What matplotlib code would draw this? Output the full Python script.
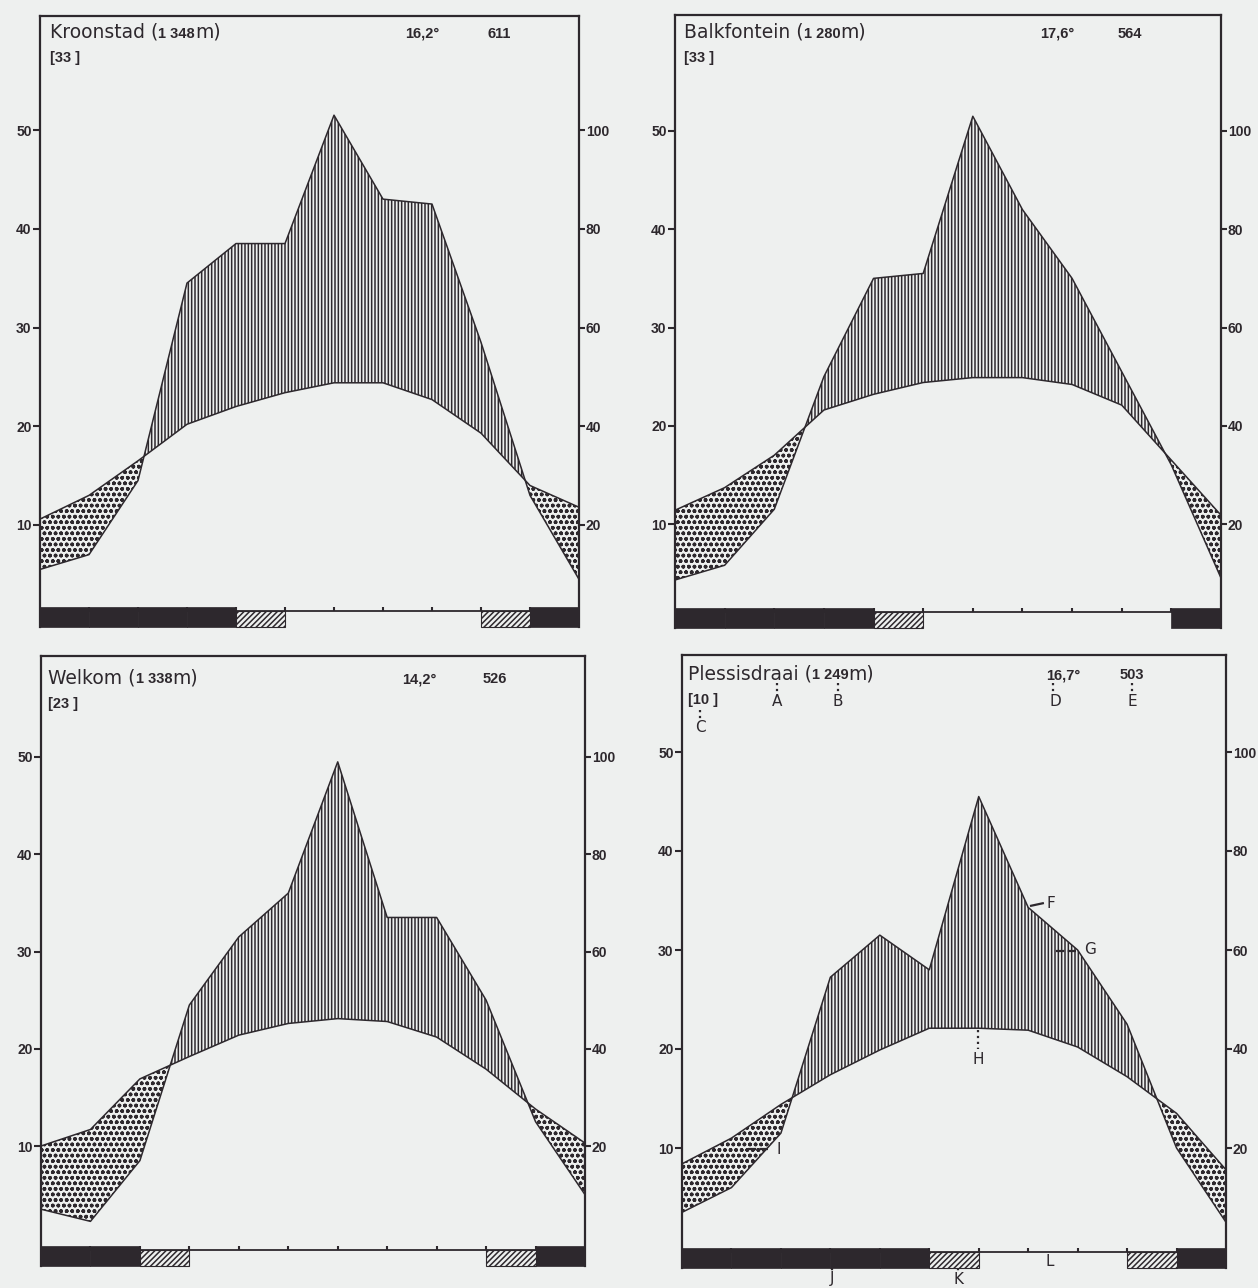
import matplotlib
matplotlib.use("Agg")
import matplotlib.pyplot as plt
from matplotlib.patches import Rectangle
from matplotlib.lines import Line2D
import numpy as np

W, H = 1258, 1288
INK = "#2d282d"
BG = "#eef0ef"

plt.rcParams["hatch.linewidth"] = 1.1
plt.rcParams["hatch.color"] = INK

NUM_FONT = "Liberation Sans"
NAME_FONT = "DejaVu Sans"

# months Jul .. Jun (southern hemisphere year)
months = np.arange(12)

# Kroonstad
kroonstad_temp = [10.6, 13.0, 16.5, 20.2, 22.0, 23.4, 24.4, 24.4, 22.7, 19.3, 14.0, 11.8]
kroonstad_prec = [11, 14, 29, 69, 77, 77, 103, 86, 85, 57, 26, 9]
kroonstad_frost = [0, 1, 2, 3, 10]
kroonstad_abs_frost = [4, 9]

# Balkfontein
balk_temp = [11.4, 13.7, 17.0, 21.6, 23.2, 24.4, 24.9, 24.9, 24.2, 22.1, 16.5, 10.9]
balk_prec = [8.6, 11.6, 23, 50, 70, 71, 103, 84, 70, 51, 32, 9]
balk_frost = [0, 1, 2, 3, 10]
balk_abs_frost = [4]

# Welkom
welkom_temp = [10.0, 11.7, 16.9, 19.2, 21.4, 22.6, 23.1, 22.8, 21.2, 17.9, 13.8, 10.3]
welkom_prec = [7, 4.5, 17, 49, 63, 72, 99, 67, 67, 50, 25, 10]
welkom_frost = [0, 1, 10]
welkom_abs_frost = [2, 9]

# Plessisdraai
pless_temp = [8.4, 11.0, 14.4, 17.4, 19.9, 22.1, 22.1, 21.9, 20.2, 17.2, 13.5, 7.8]
pless_prec = [7, 12, 23, 54.5, 63, 56, 91, 68.6, 60, 45, 20, 5]
pless_frost = [0, 1, 2, 3, 4, 10]
pless_abs_frost = [5, 9]

stations = [
    dict(name="Kroonstad", alt="1 348", mean_t="16,2", total_p="611", years="33",
         temp=kroonstad_temp, prec=kroonstad_prec,
         frost=kroonstad_frost, abs_frost=kroonstad_abs_frost,
         geom=dict(left=40, right=579, top=16, y10=525, y50=130, base=1.3,
                   head=(50, 38), stat_t=405, stat_p=488, years_y=62)),
    dict(name="Balkfontein", alt="1 280", mean_t="17,6", total_p="564", years="33",
         temp=balk_temp, prec=balk_prec,
         frost=balk_frost, abs_frost=balk_abs_frost,
         geom=dict(left=675, right=1221, top=15, y10=524, y50=131, base=1.0,
                   head=(684, 38), stat_t=1040, stat_p=1118, years_y=62)),
    dict(name="Welkom", alt="1 338", mean_t="14,2", total_p="526", years="23",
         temp=welkom_temp, prec=welkom_prec,
         frost=welkom_frost, abs_frost=welkom_abs_frost,
         geom=dict(left=41, right=585, top=656, y10=1146, y50=757, base=-0.7,
                   head=(48, 683), stat_t=402, stat_p=483, years_y=708)),
    dict(name="Plessisdraai", alt="1 249", mean_t="16,7", total_p="503", years="10",
         temp=pless_temp, prec=pless_prec,
         frost=pless_frost, abs_frost=pless_abs_frost,
         geom=dict(left=682, right=1226, top=655, y10=1148, y50=752, base=-0.5,
                   head=(688, 679), stat_t=1046, stat_p=1120, years_y=704)),
]

fig = plt.figure(figsize=(W / 100, H / 100), dpi=100)
fig.patch.set_facecolor(BG)
renderer = fig.canvas.get_renderer()


def fx(px):
    return px / W


def fy(py):
    return 1 - py / H


def chain_text(x, y, pieces):
    # pieces: list of (string, fontdict) drawn one after another on one baseline
    for s, kw in pieces:
        t = fig.text(fx(x), fy(y), s, va="baseline", ha="left", color=INK, **kw)
        bb = t.get_window_extent(renderer)
        x = bb.x1


def draw_station(st):
    g = st["geom"]
    ppd = (g["y10"] - g["y50"]) / 40.0
    zero = g["y10"] + 10 * ppd
    base = g["base"]
    ymin = base - 1.8
    ymax = (zero - g["top"]) / ppd
    bottom_px = zero - ymin * ppd
    ax = fig.add_axes([fx(g["left"]), fy(bottom_px),
                       (g["right"] - g["left"]) / W, (bottom_px - g["top"]) / H])
    ax.set_xlim(0, 11)
    ax.set_ylim(ymin, ymax)
    ax.patch.set_alpha(0)

    temp = np.array(st["temp"], dtype=float)
    prec = np.array(st["prec"], dtype=float) / 2.0

    # humid season (vertical lines) and dry season (dots)
    ax.fill_between(months, temp, prec, where=prec >= temp, interpolate=True,
                    facecolor="none", edgecolor=INK, hatch="|||||", linewidth=0)
    ax.fill_between(months, temp, prec, where=prec < temp, interpolate=True,
                    facecolor="none", edgecolor=INK, hatch="ooo", linewidth=0)
    ax.plot(months, temp, color=INK, lw=1.1)
    ax.plot(months, prec, color=INK, lw=1.1)

    # frame
    for side in ["left", "right", "top"]:
        ax.spines[side].set_linewidth(1.6)
        ax.spines[side].set_color(INK)
    ax.spines["bottom"].set_visible(False)
    ax.spines["left"].set_bounds(base - 1.6, ymax)
    ax.spines["right"].set_bounds(base - 1.6, ymax)
    ax.axhline(base, color=INK, lw=1.3)
    ax.vlines(months[1:-1], base, base + 0.4, color=INK, lw=1.5)

    # frost bar
    for k in st["frost"]:
        ax.add_patch(Rectangle((k, base - 1.6), 1, 2.0, facecolor=INK, edgecolor=INK, lw=0.5))
    for k in st["abs_frost"]:
        ax.add_patch(Rectangle((k, base - 1.6), 1, 1.6, facecolor=BG, edgecolor=INK,
                               hatch="//////", lw=0.8))

    # axes ticks
    ax.set_xticks([])
    ax.set_yticks([10, 20, 30, 40, 50])
    ax.set_yticklabels(["10", "20", "30", "40", "50"])
    ax.tick_params(axis="y", direction="out", length=5, width=1.5, pad=1, colors=INK)
    sec = ax.secondary_yaxis("right", functions=(lambda t: 2 * t, lambda p: p / 2))
    sec.set_yticks([20, 40, 60, 80, 100])
    sec.spines["right"].set_visible(False)
    sec.tick_params(axis="y", direction="out", length=4, width=1.5, pad=1, colors=INK)
    for lab in ax.get_yticklabels() + sec.get_yticklabels():
        lab.set_fontfamily(NUM_FONT)
        lab.set_fontweight("bold")
        lab.set_fontsize(10)

    # header
    hx, hy = g["head"]
    name_kw = dict(fontfamily=NAME_FONT, fontsize=13.5)
    num_kw = dict(fontfamily=NUM_FONT, fontsize=10.5, fontweight="bold")
    chain_text(hx, hy, [(st["name"] + " (", name_kw), (st["alt"], num_kw), ("m)", name_kw)])
    fig.text(fx(g["stat_t"]), fy(hy), st["mean_t"] + "\u00b0", va="baseline", color=INK, **num_kw)
    fig.text(fx(g["stat_p"]), fy(hy), st["total_p"], va="baseline", color=INK, **num_kw)
    fig.text(fx(hx), fy(g["years_y"]), "[" + st["years"] + " ]", va="baseline", color=INK, **num_kw)
    return ax


axes = [draw_station(st) for st in stations]


# key letters of the Plessisdraai diagram
def key(px, py, s, line=None, ls=":"):
    fig.text(fx(px), fy(py), s, ha="center", va="center", color=INK,
             fontfamily=NAME_FONT, fontsize=11)
    if line is not None:
        (x1, y1), (x2, y2) = line
        fig.add_artist(Line2D([fx(x1), fx(x2)], [fy(y1), fy(y2)], transform=fig.transFigure,
                              color=INK, lw=1.6, ls=ls))


key(777, 701, "A", ((777, 683), (777, 692)))
key(838, 701, "B", ((838, 683), (838, 692)))
key(700, 728, "C", ((700, 710), (700, 719)))
key(1055, 701, "D", ((1053, 683), (1053, 692)))
key(1132, 701, "E", ((1132, 683), (1132, 692)))
key(1051, 903, "F", ((1030, 906), (1044, 903)), ls="-.")
key(1090, 950, "G", ((1056, 951), (1077, 951)), ls="--")
key(978, 1060, "H", ((978, 1030), (978, 1049)))
key(779, 1149, "I", ((748, 1149), (770, 1149)), ls="--")
key(832, 1279, "J", ((832, 1268), (832, 1271)))
key(958, 1279, "K", ((958, 1268), (958, 1271)))
key(1050, 1261, "L")

fig.savefig("out.png", dpi=100, facecolor=BG)
